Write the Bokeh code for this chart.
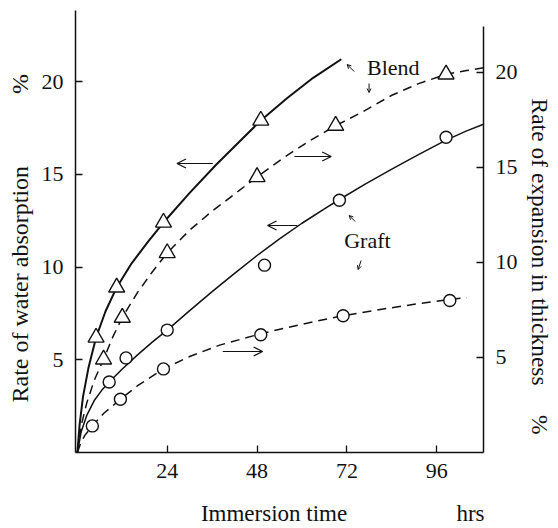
from bokeh.plotting import figure
from bokeh.models import Range1d, LinearAxis, FixedTicker, Label, Arrow, OpenHead, Title
from bokeh.embed import file_html
from bokeh.resources import INLINE

# ---------------- data ----------------
x_ticks = [24, 48, 72, 96]
y_ticks = [5, 10, 15, 20]

# Blend: rate of water absorption (left axis, solid line, triangles)
blend_abs_t = [5, 10.5, 23, 49]
blend_abs_v = [6.2, 8.9, 12.4, 17.9]
blend_abs_curve_t = [0, 0.6, 1.5, 3, 5, 7.5, 10.5, 14.5, 19, 23, 30, 37, 44, 49, 56, 63, 70.5]
blend_abs_curve_v = [0, 1.5, 3.0, 4.6, 6.2, 7.6, 8.9, 10.2, 11.4, 12.4, 14.0, 15.5, 16.9, 17.9, 19.1, 20.2, 21.2]

# Blend: rate of expansion in thickness (right axis, dashed line, triangles)
blend_exp_t = [7, 12, 24, 48, 69, 98.5]
blend_exp_v = [4.9, 7.1, 10.5, 14.5, 17.2, 19.9]
blend_exp_curve_t = [0, 1, 2.5, 4.5, 7, 9.5, 12, 16, 20, 24, 30, 36, 42, 48, 55, 62, 69, 76, 84, 91, 98.5, 104, 108.5]
blend_exp_curve_v = [0, 1.4, 2.6, 3.8, 4.9, 6.1, 7.1, 8.4, 9.5, 10.5, 11.7, 12.7, 13.6, 14.5, 15.5, 16.4, 17.2, 17.9, 18.8, 19.4, 19.9, 20.1, 20.25]

# Graft: rate of water absorption (left axis, solid line, circles)
graft_abs_t = [8.5, 13, 24, 50, 70, 98.5]
graft_abs_v = [3.8, 5.1, 6.6, 10.1, 13.6, 17.0]
graft_abs_curve_t = [0, 1, 2.5, 4.5, 6.5, 8.5, 12, 16, 20, 24, 30, 36, 42, 48, 54, 60, 66, 70, 77, 84, 91, 98.5, 104, 108.5]
graft_abs_curve_v = [0, 1.1, 2.0, 2.8, 3.35, 3.8, 4.5, 5.25, 5.95, 6.6, 7.65, 8.67, 9.66, 10.62, 11.52, 12.36, 13.14, 13.64, 14.48, 15.28, 16.05, 16.84, 17.34, 17.7]

# Graft: rate of expansion in thickness (right axis, dashed line, circles)
graft_exp_t = [4, 11.5, 23, 49, 71, 99.5]
graft_exp_v = [1.4, 2.8, 4.4, 6.2, 7.2, 8.0]
graft_exp_curve_t = [0, 1, 2, 4, 7, 11.5, 16, 23, 30, 38, 49, 60, 71, 80, 90, 99.5, 104]
graft_exp_curve_v = [0, 0.55, 0.9, 1.4, 2.05, 2.8, 3.5, 4.4, 5.05, 5.65, 6.25, 6.75, 7.2, 7.5, 7.8, 8.05, 8.15]

# ---------------- layout ----------------
W, H = 558, 528
FL, FR, FT, FB = 75, 485, 10, 452      # frame edges in canvas pixels
X0, X1 = -0.5, 108.5
YL1 = 23.83
YR1 = 23.26
SERIF = "Liberation Serif"
INK = "#111111"
NB = "\u00a0"


def px2x(px):
    return X0 + (px - FL) / (FR - FL) * (X1 - X0)


def px2y(py):
    return (FB - py) / (FB - FT) * YL1


p = figure(width=W, height=H, title=None,
           x_range=Range1d(X0, X1), y_range=Range1d(0, YL1),
           output_backend="svg", toolbar_location=None,
           min_border_left=FL, min_border_right=W - FR,
           min_border_top=FT, min_border_bottom=H - FB)
p.extra_y_ranges = {"right": Range1d(0, YR1)}
p.outline_line_color = None
p.grid.visible = False
p.background_fill_color = "white"
p.border_fill_color = "white"

right_axis = LinearAxis(y_range_name="right")
p.add_layout(right_axis, "right")


def style_axis(ax, ticks, standoff):
    ax.ticker = FixedTicker(ticks=ticks)
    ax.minor_tick_line_color = None
    ax.major_tick_in = 7
    ax.major_tick_out = 0
    ax.axis_line_color = INK
    ax.axis_line_width = 1.5
    ax.major_tick_line_color = INK
    ax.major_tick_line_width = 1.3
    ax.major_label_text_font = SERIF
    ax.major_label_text_font_size = "22px"
    ax.major_label_text_color = INK
    ax.major_label_standoff = standoff


style_axis(p.xaxis[0], x_ticks, 11)
style_axis(p.yaxis[0], y_ticks, 12)
style_axis(right_axis, y_ticks, 12)
right_axis.bounds = (0, 22.4)

# x axis title (with "hrs" unit at the right end)
xa = p.xaxis[0]
xa.axis_label = NB * 22 + "Immersion time" + NB * 19 + "hrs"
xa.axis_label_text_font = SERIF
xa.axis_label_text_font_size = "23px"
xa.axis_label_text_font_style = "normal"
xa.axis_label_text_color = INK
xa.axis_label_standoff = 20

# ---------------- curves ----------------
p.line(blend_abs_curve_t, blend_abs_curve_v, line_color=INK, line_width=2.0)
p.line(graft_abs_curve_t, graft_abs_curve_v, line_color=INK, line_width=1.5)
p.line(blend_exp_curve_t, blend_exp_curve_v, line_color=INK, line_width=1.5,
       line_dash="9 6", y_range_name="right")
p.line(graft_exp_curve_t, graft_exp_curve_v, line_color=INK, line_width=1.5,
       line_dash="9 6", y_range_name="right")

# ---------------- markers ----------------
tri = dict(marker="triangle", size=16, fill_color="white", line_color=INK, line_width=1.4)
cir = dict(marker="circle", size=12, fill_color="white", line_color=INK, line_width=1.4)
p.scatter(blend_abs_t, blend_abs_v, **tri)
p.scatter(blend_exp_t, blend_exp_v, y_range_name="right", **tri)
p.scatter(graft_abs_t, graft_abs_v, **cir)
p.scatter(graft_exp_t, graft_exp_v, y_range_name="right", **cir)

# ---------------- y axis titles (side panels, not clipped) ----------------
def side_title(text, side, size, offset, standoff):
    p.add_layout(Title(text=text, align="left", offset=offset, vertical_align="middle",
                       standoff=standoff, text_font=SERIF, text_font_size=size,
                       text_font_style="normal", text_color=INK), side)


side_title("Rate of water absorption" + NB * 12 + "%", "left", "24px", FB - 402, 10)
side_title("Rate of expansion in thickness" + NB * 5 + "%", "right", "23.5px", 98 - FT, 10)

# ---------------- in-plot texts ----------------
def add_label(px, py, text, size, align="left"):
    p.add_layout(Label(x=px2x(px), y=px2y(py), text=text,
                       text_align=align, text_baseline="middle",
                       text_font=SERIF, text_font_size=size, text_color=INK))


add_label(368, 67, "Blend", "22px")
add_label(345, 240, "Graft", "22px")

# ---------------- arrows ----------------
def add_arrow(x0, y0, x1, y1, head=9, lw=1.2):
    p.add_layout(Arrow(end=OpenHead(size=head, line_width=lw, line_color=INK),
                       x_start=px2x(x0), y_start=px2y(y0),
                       x_end=px2x(x1), y_end=px2y(y1),
                       line_width=lw, line_color=INK))


add_arrow(213, 163, 177, 163)
add_arrow(295, 156, 332, 156)
add_arrow(298, 225, 268, 225)
add_arrow(223, 351, 263, 351)
add_arrow(355, 71, 348, 64, head=4, lw=1.0)
add_arrow(370, 83, 370, 92, head=4, lw=1.0)
add_arrow(356, 221, 350, 215, head=4, lw=1.0)
add_arrow(362, 260, 359, 269, head=4, lw=1.0)

open("out.html", "w").write(file_html(p, INLINE))
